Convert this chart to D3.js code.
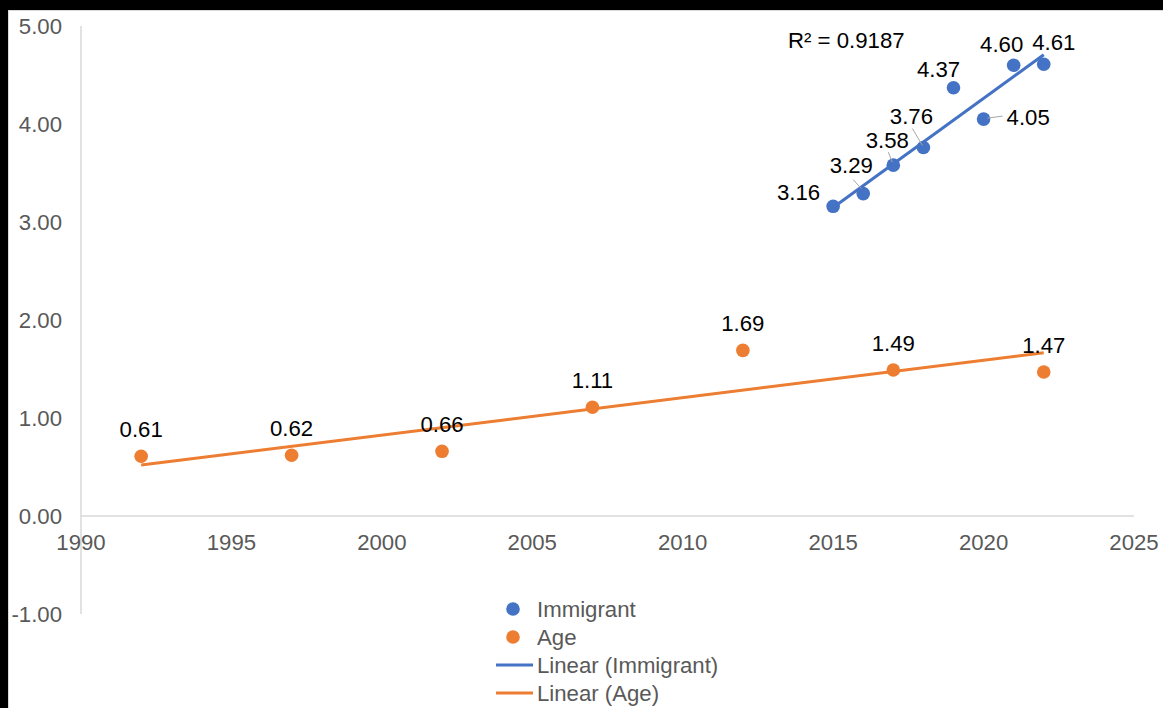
<!DOCTYPE html>
<html>
<head>
<meta charset="utf-8">
<script src="https://cdn.jsdelivr.net/npm/d3@7"></script>
<style>
  html, body { margin: 0; padding: 0; background: #000; }
  svg { display: block; }
</style>
</head>
<body>
<svg id="chart" width="1163" height="708"></svg>
<script>
// Series values
const immigrantYears = [2015, 2016, 2017, 2018, 2019, 2020, 2021, 2022];
const immigrantValues = [3.16, 3.29, 3.58, 3.76, 4.37, 4.05, 4.60, 4.61];
const ageYears = [1992, 1997, 2002, 2007, 2012, 2017, 2022];
const ageValues = [0.61, 0.62, 0.66, 1.11, 1.69, 1.49, 1.47];

// Axis ticks
const xTicks = [1990, 1995, 2000, 2005, 2010, 2015, 2020, 2025];
const yTicks = [-1, 0, 1, 2, 3, 4, 5];

// Legend entries and trend statistic shown on the chart
const legendLabels = ["Immigrant", "Age", "Linear (Immigrant)", "Linear (Age)"];
const immigrantRSquared = 0.9187;

const BLUE = "#4472C4", ORANGE = "#ED7D31", GRID = "#d9d9d9", AXIS_TEXT = "#595959";
const FONT = "'Liberation Sans', Arial, sans-serif";
const FS = 22.2;

// Two-decimal format using a plain hyphen for negatives
const fmt2 = d3.formatLocale({ decimal: ".", thousands: ",", grouping: [3], currency: ["", ""], minus: "-" }).format(".2f");

const svg = d3.select("#chart");

// Chart area (white panel with a thin light border)
svg.append("rect")
  .attr("x", 8.5).attr("y", 10.5)
  .attr("width", 1170).attr("height", 720)
  .attr("fill", "#fff").attr("stroke", GRID).attr("stroke-width", 1);

const x = d3.scaleLinear().domain([1990, 2025]).range([81, 1134]);
const y = d3.scaleLinear().domain([-1, 5]).range([614, 26]);

// Axes: y-axis spans the full value range, x-axis sits on zero
svg.append("line")
  .attr("x1", x(1990)).attr("x2", x(1990))
  .attr("y1", y(5)).attr("y2", y(-1))
  .attr("stroke", GRID).attr("stroke-width", 1.5);
svg.append("line")
  .attr("x1", x(1990)).attr("x2", x(2025))
  .attr("y1", y(0)).attr("y2", y(0))
  .attr("stroke", GRID).attr("stroke-width", 1.5);

svg.append("g").selectAll("text").data(yTicks).join("text")
  .attr("x", 62).attr("y", d => y(d))
  .attr("dy", "0.36em")
  .attr("text-anchor", "end")
  .attr("font-family", FONT).attr("font-size", FS).attr("fill", AXIS_TEXT)
  .text(d => fmt2(d));

svg.append("g").selectAll("text").data(xTicks).join("text")
  .attr("x", d => x(d)).attr("y", y(0) + 34)
  .attr("text-anchor", "middle")
  .attr("font-family", FONT).attr("font-size", FS).attr("fill", AXIS_TEXT)
  .text(d => d);

// Least-squares trend line over a series' own year span
function trend(xs, ys) {
  const n = xs.length;
  const mx = d3.mean(xs), my = d3.mean(ys);
  let sxy = 0, sxx = 0;
  for (let i = 0; i < n; i++) { sxy += (xs[i] - mx) * (ys[i] - my); sxx += (xs[i] - mx) ** 2; }
  const b = sxy / sxx, a = my - b * mx;
  const x0 = d3.min(xs), x1 = d3.max(xs);
  return [[x0, a + b * x0], [x1, a + b * x1]];
}

const line = d3.line().x(d => x(d[0])).y(d => y(d[1]));

const immigrant = immigrantYears.map((yr, i) => ({ yr, v: immigrantValues[i] }));
const age = ageYears.map((yr, i) => ({ yr, v: ageValues[i] }));

// Points
svg.append("g").selectAll("circle").data(age).join("circle")
  .attr("cx", d => x(d.yr)).attr("cy", d => y(d.v)).attr("r", 6.8)
  .attr("fill", ORANGE);
svg.append("g").selectAll("circle").data(immigrant).join("circle")
  .attr("cx", d => x(d.yr)).attr("cy", d => y(d.v)).attr("r", 6.8)
  .attr("fill", BLUE);

// Trend lines
svg.append("path").attr("d", line(trend(ageYears, ageValues)))
  .attr("fill", "none").attr("stroke", ORANGE).attr("stroke-width", 3);
svg.append("path").attr("d", line(trend(immigrantYears, immigrantValues)))
  .attr("fill", "none").attr("stroke", BLUE).attr("stroke-width", 3);

// Data labels: Age labels sit centred above each point
svg.append("g").selectAll("text").data(age).join("text")
  .attr("x", d => x(d.yr)).attr("y", d => y(d.v) - 19)
  .attr("text-anchor", "middle")
  .attr("font-family", FONT).attr("font-size", FS).attr("fill", "#000")
  .text(d => fmt2(d.v));

// Immigrant labels are placed individually around the crowded cluster
const immPlace = {
  2015: { dx: -13, dy: -6, anchor: "end" },
  2016: { dx: -12, dy: -21, anchor: "middle", leader: [[-10, -14], [-2, -5]] },
  2017: { dx: -6, dy: -17, anchor: "middle", leader: [[-5, -13], [-1, -3]] },
  2018: { dx: -12, dy: -24, anchor: "middle", leader: [[-11, -19], [-1, -2]] },
  2019: { dx: -15, dy: -11, anchor: "middle" },
  2020: { dx: 23, dy: 6, anchor: "start", leader: [[4, -1], [19, -3]] },
  2021: { dx: -12, dy: -13, anchor: "middle" },
  2022: { dx: 10, dy: -14, anchor: "middle" }
};

const immLabels = svg.append("g");
immigrant.forEach(d => {
  const p = immPlace[d.yr];
  const cx = x(d.yr), cy = y(d.v);
  if (p.leader) {
    immLabels.append("line")
      .attr("x1", cx + p.leader[0][0]).attr("y1", cy + p.leader[0][1])
      .attr("x2", cx + p.leader[1][0]).attr("y2", cy + p.leader[1][1])
      .attr("stroke", "#a6a6a6").attr("stroke-width", 1);
  }
  immLabels.append("text")
    .attr("x", cx + p.dx).attr("y", cy + p.dy)
    .attr("text-anchor", p.anchor)
    .attr("font-family", FONT).attr("font-size", FS).attr("fill", "#000")
    .text(fmt2(d.v));
});

// R-squared of the Immigrant trend
svg.append("text")
  .attr("x", 788).attr("y", 48)
  .attr("font-family", FONT).attr("font-size", FS).attr("fill", "#000")
  .text("R\u00B2 = " + d3.format(".4f")(immigrantRSquared));

// Legend
const legend = svg.append("g");
const legendRows = [609, 637, 665, 693];
legendLabels.forEach((lab, i) => {
  const ly = legendRows[i];
  const color = i % 2 === 0 ? BLUE : ORANGE;
  if (i < 2) {
    legend.append("circle").attr("cx", 513).attr("cy", ly).attr("r", 6.8).attr("fill", color);
  } else {
    legend.append("line").attr("x1", 496).attr("x2", 533).attr("y1", ly).attr("y2", ly)
      .attr("stroke", color).attr("stroke-width", 3);
  }
  legend.append("text")
    .attr("x", 537).attr("y", ly).attr("dy", "0.36em")
    .attr("font-family", FONT).attr("font-size", FS).attr("fill", AXIS_TEXT)
    .text(lab);
});
</script>
</body>
</html>
